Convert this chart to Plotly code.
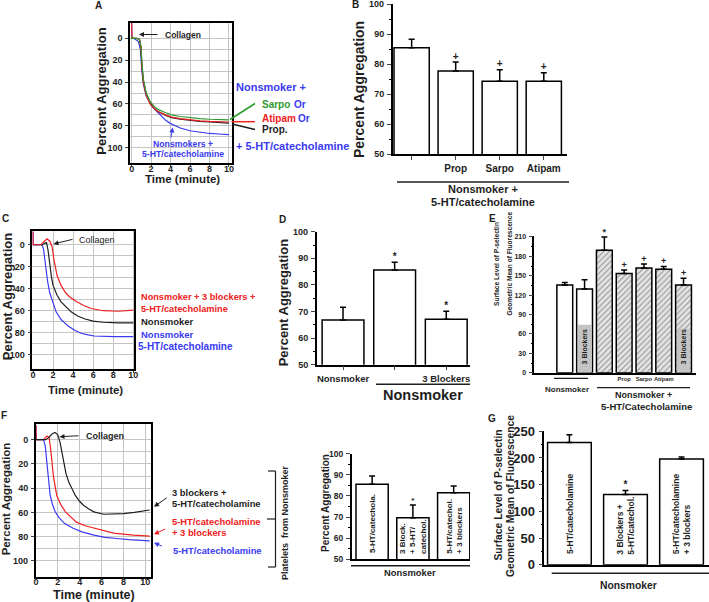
import plotly.graph_objects as go

W, H = 709, 602
FONT = "Liberation Sans, Arial, Helvetica, sans-serif"
BLUE = "#3a3af2"
RED = "#ee2020"
GREEN = "#2f9a2f"
BLACK = "#1e1e1e"
GRID = "#c4c4c4"

# ---------------- DATA ----------------
# Panel A: aggregation traces (minutes, percent aggregation)
A_t_blue = [0, 0.03, 0.15, 0.4, 0.7, 0.9, 1.05, 1.2, 1.5, 2.0, 2.5, 3.0, 3.5, 4.0, 5.0, 6.0, 7.0, 8.0, 9.0, 10.0]
A_blue = [-14, -1, 0, 1, 3, 10, 30, 42, 53, 61, 66, 71, 75, 78, 82, 84.5, 86, 87, 87.5, 88]
A_t = [0, 0.03, 0.15, 0.5, 0.8, 0.95, 1.05, 1.2, 1.5, 1.9, 2.3, 2.7, 3.5, 4.1, 5.0, 6.2, 7.0, 8.0, 9.0, 10.0]
A_black = [-2, 0, 0, 0, 1, 8, 24, 39, 51, 59, 64, 67, 70.5, 72.5, 74, 75.5, 76, 76.5, 77, 77.5]
A_red = [-14, -1, 0, 0, 1, 8, 25, 40, 52, 60, 64, 67, 70, 72, 73.5, 75, 75.5, 76, 76, 76.5]
A_green = [-2, 0, 0, 0, 1, 7, 22, 37, 50, 58, 62, 65, 68, 70, 71.5, 73, 73.5, 74, 74, 74.5]

# Panel C
C_t_red = [0, 0.02, 0.1, 0.8, 1.1, 1.4, 1.7, 1.9, 2.1, 2.4, 2.8, 3.2, 3.6, 4.2, 5.0, 5.8, 7.0, 8.5, 10.0]
C_red = [-12, 0, 0, 0, -3, -5.5, -3, 2, 14, 28, 37, 43, 47, 51, 55, 58, 60, 60.5, 59.5]
C_t_black = [0, 0.1, 0.9, 1.2, 1.35, 1.5, 1.65, 1.85, 2.0, 2.4, 2.8, 3.3, 3.8, 4.5, 5.2, 6.0, 7.0, 8.5, 10.0]
C_black = [0, 0, 0, -1.5, -2, 5, 18, 30, 37, 46, 52, 57, 61, 65, 67.5, 69.5, 70.5, 71, 71]
C_t_blue = [0, 0.02, 0.1, 0.9, 1.05, 1.15, 1.25, 1.45, 1.65, 2.0, 2.3, 2.8, 3.5, 4.2, 4.8, 5.5, 6.1, 8.0, 10.0]
C_blue = [-12, 0, 0, 0, 4, 12, 20, 33, 43, 54, 61, 68, 74, 78, 80.5, 82, 83, 83.5, 83.5]

# Panel F
F_t_black = [0, 0.9, 1.2, 1.5, 1.75, 2.0, 2.2, 2.5, 2.75, 3.0, 3.3, 3.6, 4.0, 4.35, 4.8, 5.3, 6.2, 7.0, 8.0, 9.0, 10.4]
F_black = [0, 0, -2, -5, -6, -4, 2, 18, 28, 35, 41, 46, 51, 54, 57, 59.5, 61.5, 61.5, 61, 60, 58]
F_t_red = [0, 0.02, 0.1, 0.7, 1.0, 1.2, 1.35, 1.46, 1.6, 1.9, 2.3, 2.7, 3.2, 3.7, 4.5, 5.3, 6.2, 7.1, 8.9, 10.4]
F_red = [-12, 0, 0, 0, -3, -2, 8, 18, 30, 46, 54, 59.5, 64, 68, 71, 73, 75, 77, 78.7, 79.5]
F_t_blue = [0, 0.02, 0.1, 0.7, 0.85, 1.0, 1.15, 1.3, 1.5, 1.76, 2.1, 2.6, 3.4, 4.2, 5.3, 6.3, 7.4, 8.5, 10.4]
F_blue = [-12, 0, 0, 0, 5, 18, 32, 45.7, 53, 59.5, 64, 69, 73, 76, 78.7, 80.5, 81.5, 82.5, 83.5]

TIME_TICKS = [0, 2, 4, 6, 8, 10]
AGG_TICKS = [0, 20, 40, 60, 80, 100]
AGG_MINOR = [10, 30, 50, 70, 90]

# Panel B
B_labels = ["", "Prop", "Sarpo", "Atipam"]
B_mean = [85.5, 77.7, 74.3, 74.3]
B_sem = [2.8, 3.0, 3.8, 2.8]
B_mark = ["", "+", "+", "+"]

# Panel D
D_labels = ["Nonsmoker", "", "3 Blockers"]
D_mean = [66.8, 85.6, 67.1]
D_sem = [4.8, 2.9, 3.0]
D_mark = ["", "*", "*"]

# Panel E
E_labels = ["", "", "", "Prop", "Sarpo", "Atipam", ""]
E_mean = [135.5, 129.5, 189.5, 153.5, 162, 160, 135.5]
E_sem = [4.0, 14.5, 20.5, 5.5, 6.0, 4.5, 10.5]
E_mark = ["", "", "*", "+", "+", "+", "+"]
E_hatch = ["", "", "/", "/", "/", "/", "/"]
E_fill = ["white", "white", "#e4e4e4", "#e4e4e4", "#e4e4e4", "#e4e4e4", "#e4e4e4"]
E_box = [None, 74, None, None, None, None, 68]
E_box_text = ["", "3 Blockers", "", "", "", "", "3 Blockers"]

# Panel F (bars)
FB_text = ["5-HT/catechola.", "3 Block.<br>+ 5-HT/<br>catechol.", "5-HT/catechol.<br>+ 3 blockers"]
FB_mean = [85.5, 69.7, 81.5]
FB_sem = [3.9, 6.0, 3.2]
FB_mark = ["", "*", ""]

# Panel G
G_text = ["5-HT/catecholamine", "3 Blockers +<br>5-HT/catechol.", "5-HT/catecholamine<br>+ 3 blockers"]
G_mean = [229, 131.5, 198]
G_sem = [14.5, 7.5, 4.0]
G_mark = ["", "*", ""]

# ---------------- HELPERS ----------------
anns, shapes = [], []


def fnt(size, color=BLACK, bold=True):
    return dict(family=FONT, size=size, color=color, weight="bold" if bold else "normal")


def T(x, y, s, size=9, color=BLACK, bold=True, xa="center", ya="middle", angle=0, align="center"):
    anns.append(dict(x=x / W, y=1 - y / H, xref="paper", yref="paper", text=s, showarrow=False,
                     font=fnt(size, color, bold), xanchor=xa, yanchor=ya, textangle=angle, align=align))


def ARROW(x0, y0, x1, y1, color=BLACK, w=1):
    anns.append(dict(x=x1 / W, y=1 - y1 / H, xref="paper", yref="paper", text="", showarrow=True,
                     ax=x0 - x1, ay=y0 - y1, arrowhead=2, arrowsize=1, arrowwidth=w, arrowcolor=color))


def LINE(x0, y0, x1, y1, color=BLACK, w=1.5):
    shapes.append(dict(type="line", xref="paper", yref="paper", x0=x0 / W, x1=x1 / W,
                       y0=1 - y0 / H, y1=1 - y1 / H, line=dict(color=color, width=w)))


def dx(a, b):
    return [a / W, b / W]


def dy(top, bottom):
    return [1 - bottom / H, 1 - top / H]


def ax_names(n):
    return ("x" if n == 1 else f"x{n}"), ("y" if n == 1 else f"y{n}")


fig = go.Figure()
layout_axes = {}


def line_panel(n, xd, yd, xr, yr, curves, tick_size=9):
    xn, yn = ax_names(n)
    for t, v, c in curves:
        fig.add_trace(go.Scatter(x=t, y=v, mode="lines", line=dict(color=c, width=1.2),
                                 xaxis=xn, yaxis=yn, hoverinfo="skip", showlegend=False))
    key = "" if n == 1 else str(n)
    layout_axes["xaxis" + key] = dict(domain=dx(*xd), range=xr, anchor=yn, showline=True, mirror=True,
                                      linecolor="black", linewidth=1.5, ticks="outside", ticklen=2,
                                      tickvals=TIME_TICKS, showgrid=True, gridcolor=GRID, gridwidth=1,
                                      zeroline=False, tickfont=fnt(tick_size), ticklabelstandoff=-6,
                                      automargin=False, tickangle=0, ticklabeloverflow="allow")
    layout_axes["yaxis" + key] = dict(domain=dy(*yd), range=yr, anchor=xn, showline=True, mirror=True,
                                      linecolor="black", linewidth=1.5, ticks="outside", ticklen=3,
                                      tickvals=AGG_TICKS, showgrid=True, gridcolor=GRID, gridwidth=1,
                                      minor=dict(tickvals=AGG_MINOR, showgrid=True, gridcolor=GRID, ticks=""),
                                      zeroline=False, tickfont=fnt(tick_size), ticklabelstandoff=1,
                                      automargin=False, ticklabeloverflow="allow")


def bar_panel(n, xd, yd, xr, yr, mean, sem, marks, width, xlabels, xfont, ytickvals, yfont, minor_dtick,
              xticks="outside", fill="white", hatch=None, mark_size=10):
    xn, yn = ax_names(n)
    idx = list(range(len(mean)))
    marker = dict(color=fill, line=dict(color="black", width=1.5))
    if hatch is not None:
        marker["pattern"] = dict(shape=hatch, fillmode="overlay", fgcolor="#707070", size=4, solidity=0.28)
    fig.add_trace(go.Bar(x=idx, y=mean, width=width, marker=marker, xaxis=xn, yaxis=yn,
                         error_y=dict(type="data", array=sem, arrayminus=[0] * len(sem), symmetric=False,
                                      color="black", thickness=1.5, width=3),
                         hoverinfo="skip", showlegend=False))
    fig.add_trace(go.Scatter(x=idx, y=[m + s for m, s in zip(mean, sem)], mode="text", text=marks,
                             textposition="top center", textfont=fnt(mark_size), cliponaxis=False,
                             xaxis=xn, yaxis=yn, hoverinfo="skip", showlegend=False))
    key = str(n)
    layout_axes["xaxis" + key] = dict(domain=dx(*xd), range=xr, anchor=yn, showline=True, linecolor="black",
                                      linewidth=1.5, ticks=xticks, ticklen=4, tickvals=idx, ticktext=xlabels,
                                      tickfont=fnt(xfont), showgrid=False, zeroline=False, automargin=False,
                                      tickangle=0, ticklabeloverflow="allow")
    layout_axes["yaxis" + key] = dict(domain=dy(*yd), range=yr, anchor=xn, showline=True, linecolor="black",
                                      linewidth=1.5, ticks="outside", ticklen=4, tickvals=ytickvals,
                                      tickfont=fnt(yfont), showgrid=False, zeroline=False, ticklabelstandoff=1,
                                      automargin=False, ticklabeloverflow="allow",
                                      minor=dict(ticks="outside", ticklen=2, dtick=minor_dtick,
                                                 tickcolor="black", showgrid=False))
    return xn, yn


# ---------------- PANEL A ----------------
line_panel(1, (130, 232), (23, 163), [-0.17, 10.31], [114, -14],
           [(A_t_blue, A_blue, BLUE), (A_t, A_black, BLACK), (A_t, A_red, RED), (A_t, A_green, GREEN)])
T(98, 6, "A", 10)
T(100.7, 91, "Percent Aggregation", 13, angle=-90)
T(182.5, 179, "Time (minute)", 11.5)
T(163, 35, "Collagen", 8.5, xa="left")
ARROW(159, 34.5, 139, 34.5)
T(183, 144, "Nonsmokers +", 8.7, BLUE)
T(182.5, 154, "5-HT/catecholamine", 8.7, BLUE)
ARROW(170.7, 139, 172.7, 127.5, BLUE)
T(234, 87, "Nonsmoker +", 11, BLUE, xa="left")
T(259.5, 104, "Sarpo", 10, GREEN, xa="left")
T(292, 104, "Or", 10, BLUE, xa="left")
T(259.5, 118, "Atipam", 10, RED, xa="left")
T(295.5, 118, "Or", 10, BLUE, xa="left")
T(259.5, 130, "Prop.", 10, BLACK, xa="left")
T(234, 146, "+ 5-HT/catecholamine", 11, BLUE, xa="left")
LINE(230, 119.5, 255, 103.5, GREEN, 1.5)
LINE(231.5, 121.7, 255, 121.7, RED, 1.5)
LINE(232, 124, 255, 129.5, BLACK, 1.5)

# ---------------- PANEL B ----------------
bar_panel(2, (392.7, 566.7), (4.3, 154), [-0.43, 3.52], [50, 100], B_mean, B_sem, B_mark, 0.8,
          B_labels, 10, [50, 60, 70, 80, 90, 100], 9, 5)
T(355, 5, "B", 10)
T(359, 90, "Percent Aggregation", 14, angle=-90)
LINE(397, 182, 569, 182)
T(483, 189.5, "Nonsmoker +", 11)
T(483, 201.5, "5-HT/catecholamine", 11)

# ---------------- PANEL C ----------------
line_panel(3, (32.3, 134.3), (231, 369), [-0.07, 10.1], [113, -12.5],
           [(C_t_blue, C_blue, BLUE), (C_t_black, C_black, BLACK), (C_t_red, C_red, RED)])
T(5, 218, "C", 10)
T(7.2, 297, "Percent Aggregation", 13, angle=-90)
T(85, 390, "Time (minute)", 11.5)
T(77, 240, "Collagen", 9, bold=False, xa="left")
ARROW(74, 239, 53.5, 244)
T(139, 297, "Nonsmoker + 3 blockers +", 9.2, RED, xa="left")
T(139, 309, "5-HT/catecholamine", 9.2, RED, xa="left")
T(139, 322, "Nonsmoker", 9.5, BLACK, xa="left")
T(139, 334, "Nonsmoker", 9.5, BLUE, xa="left")
T(136, 347, "5-HT/catecholamine", 10, BLUE, xa="left")

# ---------------- PANEL D ----------------
bar_panel(4, (316.7, 470), (231.7, 364.7), [-0.51, 2.46], [50, 100], D_mean, D_sem, D_mark, 0.81,
          D_labels, 9.5, [50, 60, 70, 80, 90, 100], 9, 5)
T(282, 219, "D", 10)
T(283.8, 302.5, "Percent Aggregation", 13, angle=-90)
LINE(376, 384.3, 470, 384.3)
T(423, 395.5, "Nonsmoker", 14.5)

# ---------------- PANEL E ----------------
xe, ye = bar_panel(5, (534.3, 696), (236, 372.7), [-1.54, 6.63], [0, 211.5], E_mean, E_sem, E_mark, 0.8,
                   E_labels, 5.8, [0, 30, 60, 90, 120, 150, 180, 210], 7, 15, xticks="",
                   fill=E_fill, hatch=E_hatch, mark_size=9)
fig.add_trace(go.Bar(x=list(range(len(E_box))), y=E_box, width=0.66, marker=dict(color="#c4c4c4", line=dict(width=0)),
                     xaxis=xe, yaxis=ye, hoverinfo="skip", showlegend=False))
for i, s in enumerate(E_box_text):
    if s:
        anns.append(dict(x=i, y=9, xref=xe, yref=ye, text=s, showarrow=False, font=fnt(7),
                         textangle=-90, xanchor="center", yanchor="bottom"))
T(492, 218, "E", 10)
T(496, 264, "Surface Level of P-selectin", 6.6, angle=-90)
T(508.5, 264, "Geometric Mean of Fluorescence", 6.6, angle=-90)
LINE(554, 378.3, 588, 378.3, w=1.2)
T(567, 389, "Nonsmoker", 8)
LINE(597, 387.7, 690, 387.7, w=1.2)
T(643, 394.5, "Nonsmoker +", 9)
T(646.7, 406, "5-HT/Catecholamine", 9.5)

# ---------------- PANEL F ----------------
line_panel(6, (35.7, 150.7), (424.3, 576.7), [-0.02, 10.49], [113, -12.7],
           [(F_t_blue, F_blue, BLUE), (F_t_red, F_red, RED), (F_t_black, F_black, BLACK)])
T(4, 415, "F", 10)
T(6.3, 499, "Percent Aggregation", 11.5, angle=-90)
T(94, 595, "Time (minute)", 12.5)
T(84, 435.5, "Collagen", 9, xa="left")
ARROW(80, 435.7, 59.5, 436.7)
T(169.5, 492.3, "3 blockers +", 9.4, BLACK, xa="left")
T(169.5, 503, "5-HT/catecholamine", 9.4, BLACK, xa="left")
T(169.5, 521.7, "5-HT/catecholamine", 9.4, RED, xa="left")
T(169.5, 532, "+ 3 blockers", 9.4, RED, xa="left")
T(170.5, 550, "5-HT/catecholamine", 9.4, BLUE, xa="left")
ARROW(168.3, 496.7, 154, 506.7, BLACK)
ARROW(166.7, 528.3, 154, 534.3, RED)
ARROW(163.3, 546.7, 154, 542.7, BLUE)
LINE(268, 471, 275.5, 471, w=1.2)
LINE(275.5, 471, 275.5, 567, w=1.2)
LINE(268, 567, 275.5, 567, w=1.2)
LINE(267, 519, 276, 519, w=1.2)
T(285, 523, "Platelets  from Nonsmoker", 9, angle=-90)

# ---------------- PANEL F (bars) ----------------
xf, yf = bar_panel(7, (351.7, 470), (453.7, 559.3), [-0.5, 2.4], [50, 100], FB_mean, FB_sem, FB_mark, 0.79,
                   ["", "", ""], 8, [50, 60, 70, 80, 90, 100], 8.5, 5, xticks="", mark_size=8)
for i, s in enumerate(FB_text):
    anns.append(dict(x=i, y=51.8, xref=xf, yref=yf, text=s, showarrow=False, font=fnt(8),
                     textangle=-90, xanchor="center", yanchor="bottom", align="left"))
T(325, 503, "Percent Aggregation", 10, angle=-90)
LINE(351, 565.7, 470, 565.7)
T(410, 572.5, "Nonsmoker", 9.4)

# ---------------- PANEL G ----------------
xg, yg = bar_panel(8, (544.3, 709), (431.3, 564.7), [-0.448, 2.49], [0, 250], G_mean, G_sem, G_mark, 0.78,
                   ["", "", ""], 8, [0, 50, 100, 150, 200, 250], 13, 25, xticks="", mark_size=10)
for i, s in enumerate(G_text):
    anns.append(dict(x=i, y=16, xref=xg, yref=yg, text=s, showarrow=False, font=fnt(8.5),
                     textangle=-90, xanchor="center", yanchor="bottom", align="left"))
T(492, 418, "G", 10)
T(497.5, 495, "Surface Level of P-selectin", 10.3, angle=-90)
T(510, 496, "Geometric Mean of Fluorescence", 10.3, angle=-90)
LINE(551.7, 573.3, 709, 573.3)
T(628, 585, "Nonsmoker", 10.3)

fig.update_layout(width=W, height=H, margin=dict(l=0, r=0, t=0, b=0, pad=0, autoexpand=False),
                  paper_bgcolor="white", plot_bgcolor="rgba(0,0,0,0)", showlegend=False, barmode="overlay",
                  annotations=anns, shapes=shapes, font=dict(family=FONT, color=BLACK), **layout_axes)
fig.write_html("out.html", config={"displayModeBar": False},
               post_script="document.body.style.margin='0';document.body.style.padding='0';"
                           "document.body.style.overflow='hidden';")
